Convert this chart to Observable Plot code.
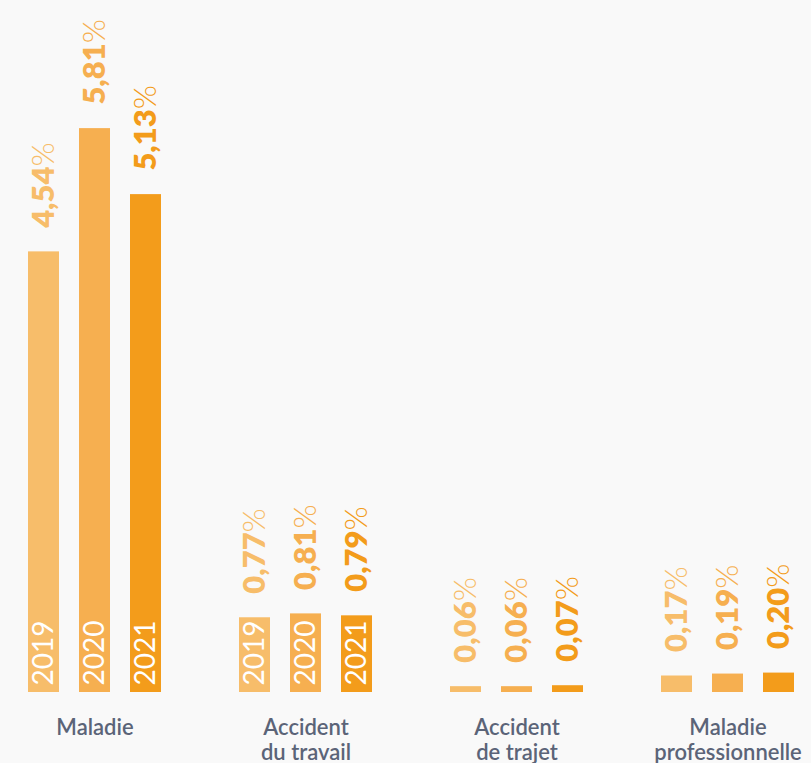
<!DOCTYPE html>
<html><head><meta charset="utf-8">
<script src="https://cdn.jsdelivr.net/npm/d3@7"></script>
<script src="https://cdn.jsdelivr.net/npm/@observablehq/plot@0.6"></script>
<style>
html,body{margin:0;padding:0;background:#f9f9f9;}
tspan.light{font-family:Lato,sans-serif;font-weight:300;}
</style></head><body><div id="chart"></div>
<script>
const categories = ["Maladie", "Accident\ndu travail", "Accident\nde trajet", "Maladie\nprofessionnelle"];
const years = ["2019", "2020", "2021"];
const values2019 = [4.54, 0.77, 0.06, 0.17];
const values2020 = [5.81, 0.81, 0.06, 0.19];
const values2021 = [5.13, 0.79, 0.07, 0.20];
const yearColors = ["#F7BD6A", "#F6AF50", "#F39C1B"];

const series = [values2019, values2020, values2021];
const data = categories.flatMap((c, i) => years.map((y, j) => ({
  category: c, year: y, value: series[j][i],
  label: series[j][i].toFixed(2).replace(".", ",") + "%"
})));

const plot = Plot.plot({
  width: 811, height: 763,
  marginTop: 0, marginBottom: 71, marginLeft: 15, marginRight: 4,
  style: {background: "transparent", fontFamily: "Lato, sans-serif", overflow: "visible"},
  fx: {domain: categories, paddingInner: 0.264, paddingOuter: 0, axis: null, label: null},
  x: {domain: years, paddingInner: 0.385, paddingOuter: 0.192, axis: null},
  y: {domain: [0, 7.13], axis: null},
  color: {domain: years, range: yearColors},
  marks: [
    Plot.barY(data, {fx: "category", x: "year", y: "value", fill: "year"}),
    Plot.text(data, {fx: "category", x: "year", y: "value", text: "label", fill: "year",
      rotate: -90, textAnchor: "start", dy: -24, fontSize: 31, fontWeight: 800}),
    Plot.text(data.filter(d => d.value > 0.5), {fx: "category", x: "year", y: 0, text: "year",
      fill: "white", rotate: -90, textAnchor: "start", dy: -7, fontSize: 28, fontWeight: 400}),
    Plot.text(categories, {fx: d => d, frameAnchor: "bottom", text: d => d, lineAnchor: "top",
      dy: 25, fontSize: 22, fill: "#5b6478", fontWeight: 600, lineHeight: 1.13})
  ]
});

plot.querySelectorAll("text").forEach(t => {
  const s = t.textContent;
  if (!s.endsWith("%")) return;
  while (t.firstChild) t.removeChild(t.firstChild);
  t.appendChild(document.createTextNode(s.slice(0, -1)));
  const ts = document.createElementNS("http://www.w3.org/2000/svg", "tspan");
  ts.setAttribute("class", "light");
  ts.setAttribute("font-weight", "300");
  ts.textContent = "%";
  t.appendChild(ts);
});

document.getElementById("chart").appendChild(plot);
</script>
</body></html>
